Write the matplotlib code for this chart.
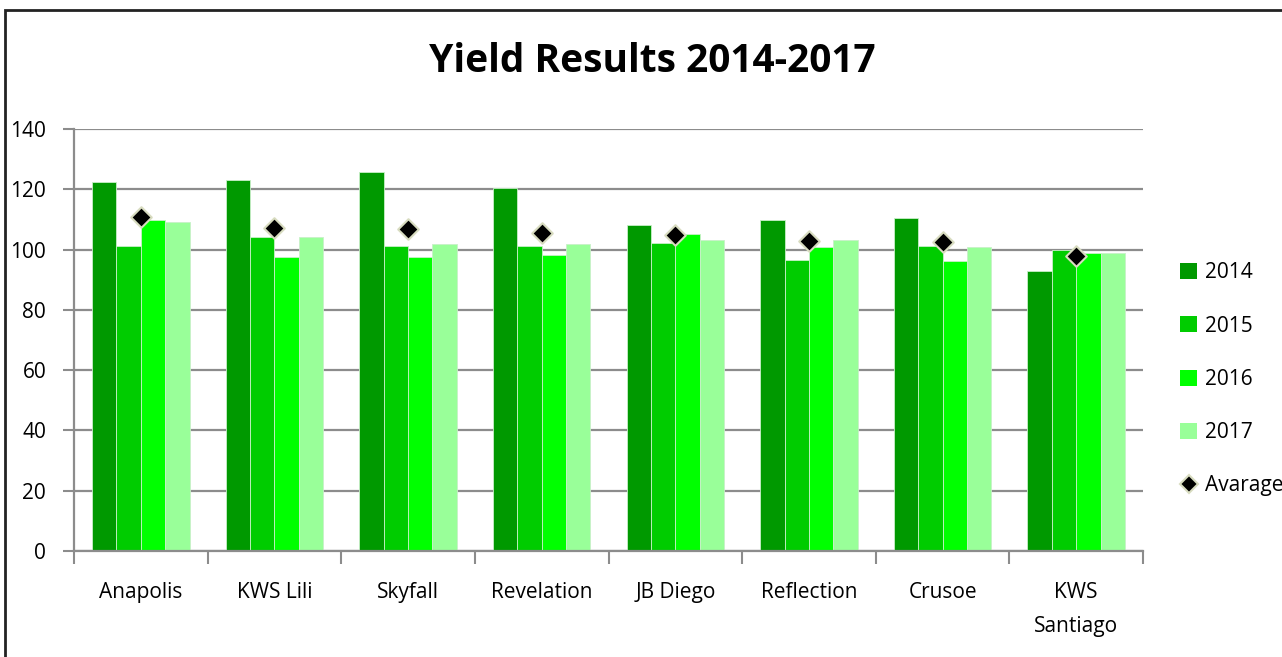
import matplotlib.pyplot as plt
import numpy as np
from matplotlib.lines import Line2D
from matplotlib.patches import Patch, Rectangle

plt.rcParams["font.family"] = ["Liberation Sans Narrow", "Open Sans", "DejaVu Sans"]

# Yield per variety and year
varieties = ["Anapolis", "KWS Lili", "Skyfall", "Revelation", "JB Diego",
             "Reflection", "Crusoe", "KWS\nSantiago"]
years = ["2014", "2015", "2016", "2017"]
y2014 = [122.3, 123.2, 125.9, 120.4, 108.1, 109.8, 110.5, 92.9]
y2015 = [101.3, 104.1, 101.1, 101.3, 102.3, 96.5, 101.3, 99.8]
y2016 = [109.8, 97.6, 97.6, 98.3, 105.2, 100.8, 96.3, 98.7]
y2017 = [109.0, 104.1, 102.0, 102.0, 103.2, 103.2, 101.0, 99.0]
average = [110.7, 107.3, 106.7, 105.6, 104.8, 102.8, 102.4, 97.8]

colors = ["#009900", "#00cc00", "#00ff00", "#99ff99"]
series = [y2014, y2015, y2016, y2017]

fig = plt.figure(figsize=(12.82, 6.57), dpi=100)
ax = fig.add_axes([74 / 1282, 1 - 551 / 657, (1143 - 74) / 1282, (551 - 129) / 657])

x = np.arange(len(varieties))
bw = 0.73 / 4
for i, (vals, c) in enumerate(zip(series, colors)):
    ax.bar(x - 0.365 + bw * (i + 0.5), vals, bw, color=c,
           edgecolor="#c8f0c8", linewidth=0.6, zorder=2)

ax.scatter(x, average, marker="D", s=110, color="black",
           edgecolors="#d8dcc0", linewidths=1.5, zorder=3)

ax.set_xlim(-0.5, len(varieties) - 0.5)
ax.set_ylim(0, 140)
ax.set_yticks(range(0, 141, 20))
ax.yaxis.grid(True, color="#8c8c8c", linewidth=1.6, zorder=0)
ax.set_axisbelow(True)

ax.set_xticks(x)
ax.set_xticklabels(varieties, fontsize=15, linespacing=1.85)
ax.set_xticks(np.arange(-0.5, len(varieties)), minor=True)
ax.tick_params(axis="x", which="major", length=0, pad=22)
ax.tick_params(axis="x", which="minor", length=9, width=1.5, color="#8c8c8c")
ax.tick_params(axis="y", length=8, width=1.5, color="#8c8c8c", labelsize=15, pad=12)

for s in ["top", "right"]:
    ax.spines[s].set_visible(False)
for s in ["left", "bottom"]:
    ax.spines[s].set_color("#8c8c8c")
    ax.spines[s].set_linewidth(1.6)

fig.text(0.509, 1 - 62 / 657, "Yield Results 2014-2017", ha="center", va="center",
         fontsize=28, fontweight="bold")

handles = [Patch(facecolor=c, edgecolor="none") for c in colors]
handles.append(Line2D([], [], marker="D", color="none", markerfacecolor="black",
                      markeredgecolor="#d8dcc0", markersize=9, markeredgewidth=1.5))
fig.legend(handles, years + ["Avarage"], loc="upper left",
           bbox_to_anchor=(1172 / 1282, 1 - 254 / 657), frameon=False,
           fontsize=15, labelspacing=1.55, handlelength=0.8, handleheight=0.8,
           handletextpad=0.4, borderaxespad=0)

fig.patches.append(Rectangle((5 / 1282, -0.1), 1.1, 1.1 - 10 / 657,
                             transform=fig.transFigure, fill=False,
                             edgecolor="#222222", linewidth=2))

fig.savefig("out.png", dpi=100)
